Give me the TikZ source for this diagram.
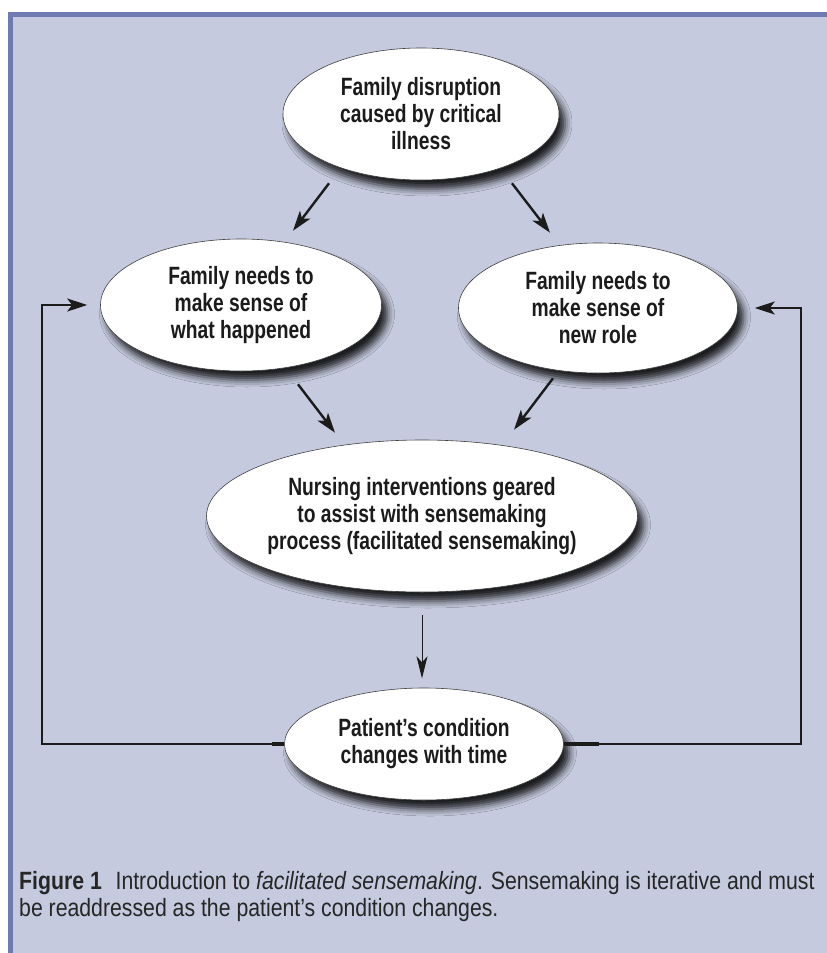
\documentclass[tikz,border=0pt]{standalone}
\usepackage{fontspec}
\setmainfont{Liberation Sans}
\newfontfamily\bubblefont[FakeStretch=0.77]{Liberation Sans}
\newfontfamily\captionfont[FakeStretch=0.85]{Liberation Sans}
\usetikzlibrary{shapes.geometric,shadows.blur,arrows.meta,calc}

\definecolor{panel}{HTML}{C5CADE}
\definecolor{frameblue}{HTML}{6F7BB0}
\definecolor{ink}{HTML}{1B1B1B}

\tikzset{
  bubble/.style={ellipse,draw=black!75,line width=0.6pt,fill=white,inner sep=0pt,
    align=center,text=ink,font=\bubblefont\bfseries\fontsize{25}{27}\selectfont,
    blur shadow={shadow xshift=6pt,shadow yshift=-9pt,shadow blur radius=7pt,shadow opacity=85}},
  flow/.style={draw=ink,line width=2.4pt,-{Stealth[length=20pt,width=13pt,inset=5pt]}},
  thinflow/.style={draw=ink,line width=1pt,-{Stealth[length=22pt,width=11pt,inset=6pt]}},
}

\begin{document}
\begin{tikzpicture}[x=1pt,y=-1pt]

        \useasboundingbox (0,0) rectangle (827,953);
        \fill[white] (0,0) rectangle (827,953);
        \fill[panel] (8,12) rectangle (827,953);
        \fill[frameblue] (8,12) rectangle (827,17);
        \fill[frameblue] (8,12) rectangle (13,953);

        \begin{scope}[every node/.style={bubble}]
          \node[minimum width=276pt,minimum height=132pt] (disrupt)  at (421,114) {Family disruption\\caused by critical\\illness};
          \node[minimum width=281pt,minimum height=132pt] (needwhat) at (241,305) {Family needs to\\make sense of\\what happened};
          \node[minimum width=279pt,minimum height=130pt] (needrole) at (598,308) {Family needs to\\make sense of\\new role};
          \node[minimum width=431pt,minimum height=152pt,inner xsep=-14pt,inner ysep=-8pt] (nursing) at (422,516) {Nursing interventions geared\\to assist with sensemaking\\process (facilitated sensemaking)};
          \node[minimum width=279pt,minimum height=112pt] (patient)  at (424,744) {Patient’s condition\\changes with time};
        \end{scope}

        \begin{scope}[every edge/.style={flow}]
          \path ($(disrupt.south)+(-92,3)$)  edge ($(needwhat.north)+(52,-8)$);
          \path ($(disrupt.south)+(91,3)$)   edge ($(needrole.north)+(-48,-10)$);
          \path ($(needwhat.south)+(57,13)$) edge ($(nursing.north)+(-87,-7)$);
          \path ($(needrole.south)+(-45,5)$) edge ($(nursing.north)+(92,-10)$);
        \end{scope}
        \draw[thinflow] ($(nursing.south)+(0,23)$) -- ($(nursing.south)+(0,86)$);

        % feedback loop
        \draw[flow] (patient.west) -- ++(-242,0) |- ($(needwhat.west)+(-13,0)$);
        \draw[flow] (patient.east) -- ++(237,0) |- ($(needrole.east)+(17,0)$);
        \draw[ink,line width=3.6pt] (patient.west) -- ++(-12,0);
        \draw[ink,line width=3.6pt] (patient.east) -- ++(35,0);

        \node[anchor=north west,align=left,inner sep=0pt,text=black!85,
          font=\captionfont\fontsize{25}{27}\selectfont] (caption) at (19,871)
          {\textbf{Figure 1}\hspace{0.55em}Introduction to \textit{facilitated sensemaking}. Sensemaking is iterative and must\\be readdressed as the patient’s condition changes.};

      \end{tikzpicture}
\end{document}
